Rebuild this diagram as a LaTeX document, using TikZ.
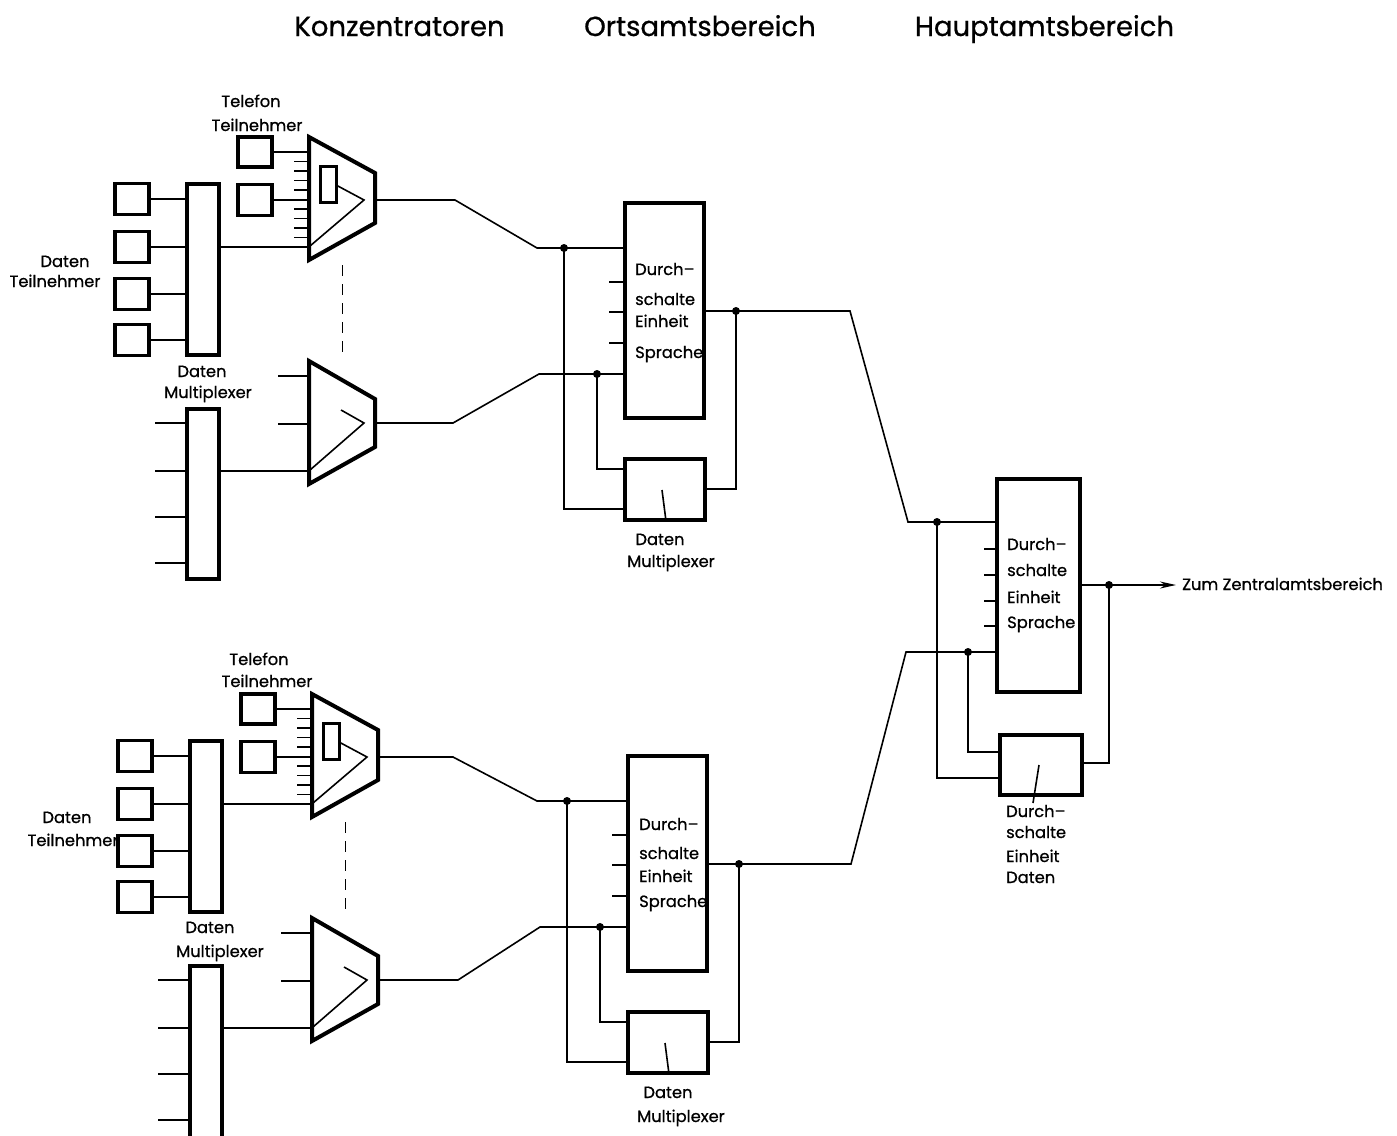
\documentclass[tikz,border=0pt]{standalone}
\usepackage{fontspec}
\setmainfont{Poppins}[FakeBold=0.7]
\usetikzlibrary{calc,arrows.meta}
\tikzset{
  box/.style={draw, line width=3.4pt, inner sep=0pt, outer sep=0pt, fill=white},
  wire/.style={line width=1.6pt},
  trap/.style={draw, line width=4pt, line join=miter},
  jdot/.style={circle, fill, inner sep=0pt, minimum size=8pt},
  lbl/.style={font=\fontsize{16.3}{16.3}\selectfont, inner sep=0pt},
  ttl/.style={font=\fontsize{27.5}{27.5}\selectfont, inner sep=0pt},
}
\newcommand\concpart[2]{%
  \node[box, minimum width=34pt, minimum height=30pt] (#1p1) at (255,152) {};
  \node[box, minimum width=34pt, minimum height=31pt] (#1p2) at (255,200) {};
  \node[box, minimum width=34pt, minimum height=31pt] (#1d1) at (132,199) {};
  \node[box, minimum width=34pt, minimum height=31pt] (#1d2) at (132,247) {};
  \node[box, minimum width=34pt, minimum height=31pt] (#1d3) at (132,294) {};
  \node[box, minimum width=34pt, minimum height=31pt] (#1d4) at (132,340) {};
  \node[box, minimum width=32pt, minimum height=171pt] (#1m1) at (203,269.5) {};
  \node[box, minimum width=32pt, minimum height=#2pt] (#1m2) at (203,{409+#2/2}) {};
  \draw[trap] (309,137) -- (375,173) -- (375,223) -- (309,260) -- cycle;
  \coordinate (#1t1a) at (309,152);
  \coordinate (#1t1b) at (309,200);
  \coordinate (#1t1c) at (309,247);
  \coordinate (#1t1out) at (375,200);
  \draw[line width=3pt] (320,166) rectangle (336,202);
  \draw[wire] (336,185) -- (364,200) -- (310,246);
  \foreach \y in {161.5,171,180.5,190,209,218.5,228,237.5} \draw[wire] (294,\y) -- (309,\y);
  \draw[wire] (#1p1.east) -- (#1t1a);
  \draw[wire] (#1p2.east) -- (#1t1b);
  \draw[wire] (#1m1.east |- #1t1c) -- (#1t1c);
  \foreach \i in {1,2,3,4} \draw[wire] (#1d\i.east) -- (#1d\i.east -| #1m1.west);
  \draw[line width=1pt, dash pattern=on 11pt off 8pt] (342,265) -- (342,357);
  \draw[trap] (309,361) -- (375,399) -- (375,447) -- (309,484) -- cycle;
  \coordinate (#1t2a) at (309,376);
  \coordinate (#1t2b) at (309,424);
  \coordinate (#1t2c) at (309,471);
  \coordinate (#1t2out) at (375,423);
  \draw[wire] (278,376) -- (#1t2a);
  \draw[wire] (278,424) -- (#1t2b);
  \draw[wire] (#1m2.east |- #1t2c) -- (#1t2c);
  \draw[wire] (341,410) -- (364,423) -- (310,470);
  \foreach \y in {423,471,517,563} \draw[wire] (155,\y) -- (#1m2.west |- 0,\y);
}
\newcommand\ortspart[1]{%
  \node[box, minimum width=79pt, minimum height=215pt] (#1o) at (664.5,310.5) {};
  \node[box, minimum width=80pt, minimum height=61pt] (#1om) at (665,489.5) {};
  \coordinate (#1in1) at (#1o.west |- 0,248);
  \coordinate (#1in2) at (#1o.west |- 0,374);
  \coordinate (#1out) at (#1o.east |- 0,311);
  \foreach \y in {282,312,343} \draw[wire] (609,\y) -- (#1o.west |- 0,\y);
  \node[jdot] (#1j1) at (564,248) {};
  \node[jdot] (#1j2) at (597,374) {};
  \node[jdot] (#1j3) at (736,311) {};
  \draw[wire] (#1j1.center) |- (#1om.west |- 0,509);
  \draw[wire] (#1j2.center) |- (#1om.west |- 0,469);
  \draw[wire] (#1j3.center) |- (#1om.east |- 0,489);
  \draw[wire] (662,490) -- (666,521);
}
\begin{document}
\begin{tikzpicture}[x=1pt,y=-1pt]
\useasboundingbox (0,0) rectangle (1397,1135);
\fill[white] (0,0) rectangle (1397,1135);
\clip (0,0) rectangle (1397,1135);
% titles
\node[ttl, anchor=base] (tk) at (399.5,36) {Konzentratoren};
\node[ttl, anchor=base] (to) at (700,36) {Ortsamtsbereich};
\node[ttl, anchor=base] (th) at (1044.5,36) {Hauptamtsbereich};
% sections
\begin{scope}\concpart{a}{170}\end{scope}
\begin{scope}[shift={(3,557)}]\concpart{b}{190}\end{scope}
\begin{scope}\ortspart{a}\end{scope}
\begin{scope}[shift={(3,553)}]\ortspart{b}\end{scope}
% concentrator -> Ortsamt
\draw[wire] (at1out) -- ++(80,0) -- ($(ain1)+(-88,0)$) -- (ain1);
\draw[wire] (at2out) -- ++(78,0) -- ($(ain2)+(-86,0)$) -- (ain2);
\draw[wire] (bt1out) -- ++(75,0) -- ($(bin1)+(-91,0)$) -- (bin1);
\draw[wire] (bt2out) -- ++(80,0) -- ($(bin2)+(-88,0)$) -- (bin2);
% Hauptamt
\node[box, minimum width=83pt, minimum height=213pt] (h) at (1038.5,585.5) {};
\node[box, minimum width=82pt, minimum height=60pt] (hm) at (1041,765) {};
\coordinate (hin1) at (h.west |- 0,522);
\coordinate (hin2) at (h.west |- 0,652);
\coordinate (hout) at (h.east |- 0,585);
\foreach \y in {549,575,601,626} \draw[wire] (984,\y) -- (h.west |- 0,\y);
\node[jdot] (hj1) at (937,522) {};
\node[jdot] (hj2) at (968,652) {};
\node[jdot] (hj3) at (1109,585) {};
\draw[wire] (hj1.center) |- (hm.west |- 0,778);
\draw[wire] (hj2.center) |- (hm.west |- 0,752);
\draw[wire] (hj3.center) |- (hm.east |- 0,763);
\draw[wire] (1039,765) -- (1033,803);
\draw[wire] (aout) -- ++(146,0) -- ($(hin1)+(-89,0)$) -- (hin1);
\draw[wire] (bout) -- ++(144,0) -- ($(hin2)+(-91,0)$) -- (hin2);
\node[lbl, anchor=base west] (zum) at (1182,590) {Zum Zentralamtsbereich};
\draw[wire, -{Stealth[length=16pt,width=7pt]}, shorten >=6pt] (hout) -- (hout -| zum.west);
% labels top
\node[lbl, anchor=base] (atel1) at (251,107) {Telefon};
\node[lbl, anchor=base] (atel2) at (257,131) {Teilnehmer};
\node[lbl, anchor=base] (adt1) at (65,267) {Daten};
\node[lbl, anchor=base] (adt2) at (55,287) {Teilnehmer};
\node[lbl, anchor=base] (adm1) at (202,377) {Daten};
\node[lbl, anchor=base] (adm2) at (208,398) {Multiplexer};
\node[lbl, anchor=base west] (ao1) at (635,275) {Durch--};
\node[lbl, anchor=base west] (ao2) at (635,305) {schalte};
\node[lbl, anchor=base west] (ao3) at (635,327) {Einheit};
\node[lbl, anchor=base west] (ao4) at (635,358) {Sprache};
\node[lbl, anchor=base] (aom1) at (660,545) {Daten};
\node[lbl, anchor=base] (aom2) at (671,567) {Multiplexer};
% labels bottom
\node[lbl, anchor=base] (btel1) at (259,665) {Telefon};
\node[lbl, anchor=base] (btel2) at (267,687) {Teilnehmer};
\node[lbl, anchor=base] (bdt1) at (67,823) {Daten};
\node[lbl, anchor=base] (bdt2) at (73,846) {Teilnehmer};
\node[lbl, anchor=base] (bdm1) at (210,933) {Daten};
\node[lbl, anchor=base] (bdm2) at (220,957) {Multiplexer};
\node[lbl, anchor=base west] (bo1) at (639,830) {Durch--};
\node[lbl, anchor=base west] (bo2) at (639,859) {schalte};
\node[lbl, anchor=base west] (bo3) at (639,882) {Einheit};
\node[lbl, anchor=base west] (bo4) at (639,907) {Sprache};
\node[lbl, anchor=base] (bom1) at (668,1098) {Daten};
\node[lbl, anchor=base] (bom2) at (681,1122) {Multiplexer};
% labels Hauptamt
\node[lbl, anchor=base west] (h1) at (1007,550) {Durch--};
\node[lbl, anchor=base west] (h2) at (1007,576) {schalte};
\node[lbl, anchor=base west] (h3) at (1007,603) {Einheit};
\node[lbl, anchor=base west] (h4) at (1007,628) {Sprache};
\node[lbl, anchor=base west] (hm1) at (1006,817) {Durch--};
\node[lbl, anchor=base west] (hm2) at (1006,838) {schalte};
\node[lbl, anchor=base west] (hm3) at (1006,862) {Einheit};
\node[lbl, anchor=base west] (hm4) at (1006,883) {Daten};
\end{tikzpicture}
\end{document}
